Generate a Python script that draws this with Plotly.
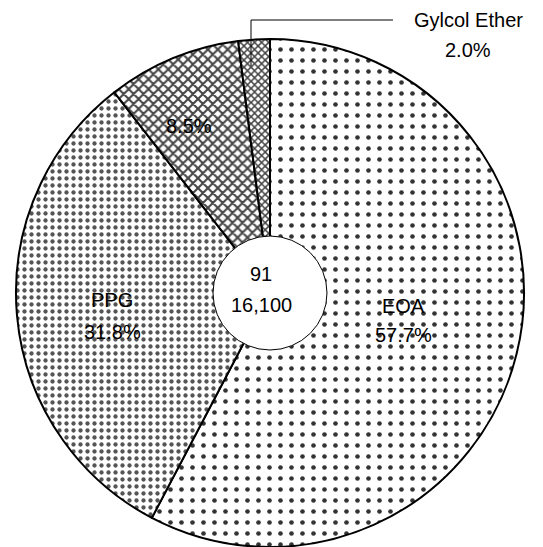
import plotly.graph_objects as go

labels = ["EOA", "PPG", "Other", "Gylcol Ether"]
values = [57.7, 31.8, 8.5, 2.0]
slice_names = ["EOA", "PPG", "", "Gylcol Ether"]
center_lines = ["91", "16,100"]

W, H = 543, 547
cx, cy_top, R = 270, 293, 254
hole_r = 57
FONT = "Liberation Sans, Arial"
FS = 20


def px(x):
    return x / W


def py(y):
    return (H - y) / H


fig = go.Figure(go.Pie(
    labels=labels,
    values=values,
    sort=False,
    direction="clockwise",
    rotation=0,
    hole=(hole_r - 2) / R,
    textinfo="none",
    marker=dict(
        colors=["white", "white", "white", "white"],
        line=dict(color="black", width=2),
        pattern=dict(
            shape=[".", ".", "x", "x"],
            size=[11, 7, 7, 5],
            solidity=[0.14, 0.3, 0.5, 0.5],
            fgcolor=["#333333", "#555555", "#444444", "#444444"],
            bgcolor="white",
            fillmode="replace",
        ),
    ),
    showlegend=False,
    hoverinfo="label+percent",
    domain=dict(x=[px(cx - R), px(cx + R)], y=[py(cy_top + R), py(cy_top - R)]),
))

# hole outline
fig.add_shape(type="circle", xref="paper", yref="paper",
              x0=px(cx - hole_r), x1=px(cx + hole_r),
              y0=py(cy_top + hole_r), y1=py(cy_top - hole_r),
              line=dict(color="black", width=1), fillcolor="white", layer="above")


def label(txt, x, y):
    fig.add_annotation(x=px(x), y=py(y), xref="paper", yref="paper",
                       xanchor="center", yanchor="middle",
                       text=txt, showarrow=False,
                       font=dict(family=FONT, size=FS, color="black"))


# center text
for txt, yy in zip(center_lines, [274, 305]):
    label(txt, 261, yy)

# slice labels (name line + percent line)
label_pos = [(403, 306, 335), (112, 300, 332), (189, None, 126), (468, 20, 50)]
for name, v, (x, yn, yp) in zip(slice_names, values, label_pos):
    if name and yn is not None:
        label(name, x, yn)
    label(f"{v:.1f}%", x, yp)

# leader line for small slice
fig.add_shape(type="path", xref="paper", yref="paper",
              path=f"M {px(251)} {py(66)} L {px(251)} {py(20)} L {px(393)} {py(20)}",
              line=dict(color="black", width=1))

fig.update_layout(width=W, height=H, margin=dict(l=0, r=0, t=0, b=0),
                  paper_bgcolor="white", plot_bgcolor="white")
fig.write_html("out.html", config={"displayModeBar": False},
               post_script="document.body.style.margin='0';")
